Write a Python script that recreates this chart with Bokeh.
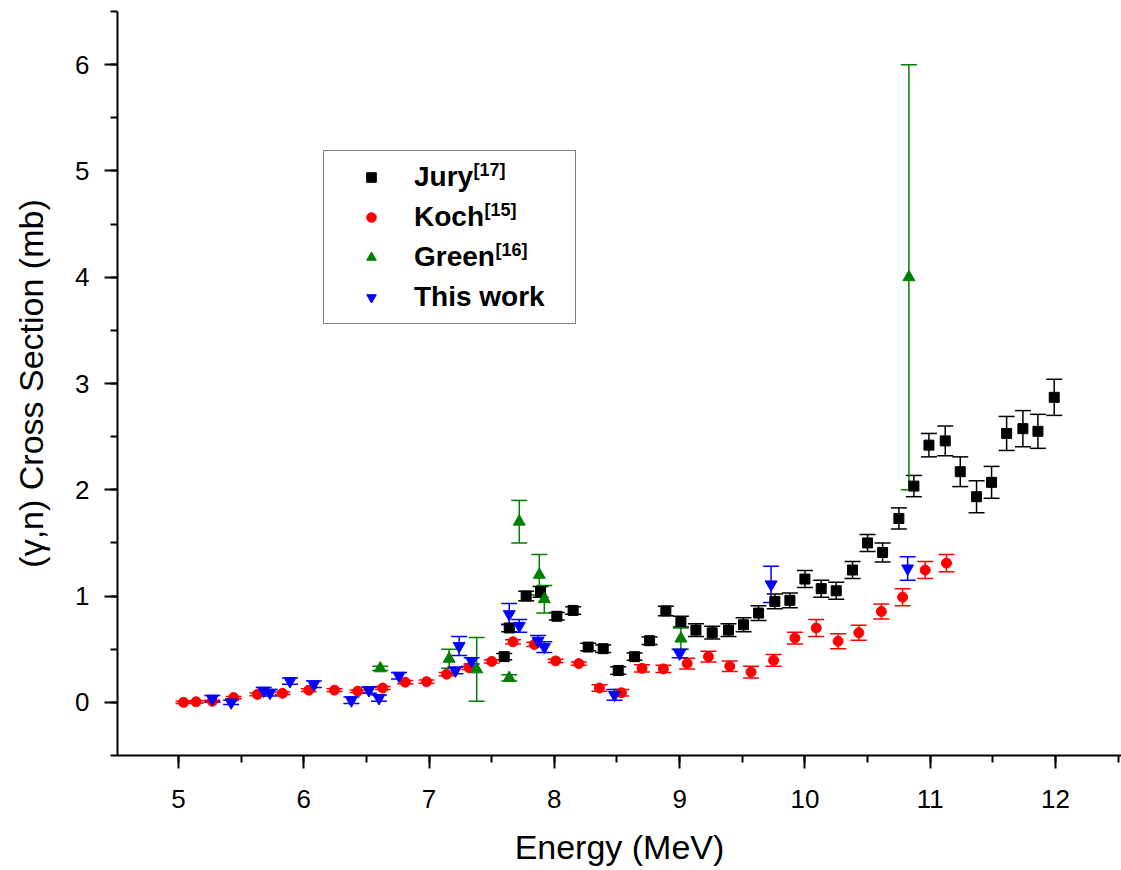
from bokeh.plotting import figure
from bokeh.models import (ColumnDataSource, Whisker, TeeHead, Range1d, Legend,
                          LegendItem, Label)
from bokeh.embed import file_html
from bokeh.resources import INLINE

# ---- data ----
jury_e = [7.60, 7.64, 7.775, 7.89, 8.02, 8.15, 8.27, 8.39, 8.51, 8.64, 8.76, 8.89,
          9.01, 9.13, 9.26, 9.39, 9.51, 9.63, 9.76, 9.88, 10.00, 10.13, 10.25, 10.38,
          10.50, 10.62, 10.75, 10.87, 10.99, 11.12, 11.24, 11.37, 11.49, 11.61, 11.74,
          11.86, 11.99]
jury_v = [0.43, 0.70, 1.00, 1.04, 0.81, 0.865, 0.52, 0.505, 0.30, 0.43, 0.58, 0.86,
          0.76, 0.68, 0.655, 0.68, 0.73, 0.84, 0.95, 0.96, 1.16, 1.07, 1.05, 1.245,
          1.50, 1.41, 1.73, 2.035, 2.42, 2.46, 2.17, 1.935, 2.07, 2.53, 2.575,
          2.55, 2.87]
jury_err = [0.03, 0.035, 0.045, 0.05, 0.035, 0.035, 0.035, 0.035, 0.035, 0.035, 0.035, 0.045,
            0.05, 0.06, 0.06, 0.06, 0.065, 0.07, 0.07, 0.07, 0.08, 0.08, 0.08, 0.08,
            0.08, 0.09, 0.10, 0.10, 0.11, 0.14, 0.14, 0.15, 0.15, 0.16, 0.17,
            0.16, 0.17]

koch_e = [5.04, 5.14, 5.27, 5.44, 5.63, 5.83, 6.04, 6.245, 6.43, 6.63, 6.81, 6.98,
          7.14, 7.32, 7.50, 7.67, 7.84, 8.01, 8.195, 8.36, 8.535, 8.70, 8.87, 9.06,
          9.23, 9.40, 9.57, 9.75, 9.92, 10.09, 10.265, 10.43, 10.61, 10.78, 10.96, 11.13]
koch_v = [0.0, 0.005, 0.01, 0.045, 0.075, 0.085, 0.115, 0.115, 0.105, 0.135, 0.19, 0.195,
          0.265, 0.325, 0.385, 0.57, 0.545, 0.39, 0.365, 0.135, 0.09, 0.32, 0.315, 0.365,
          0.43, 0.34, 0.285, 0.395, 0.605, 0.70, 0.575, 0.655, 0.855, 0.99, 1.245, 1.31]
koch_err = [0.01, 0.01, 0.01, 0.01, 0.012, 0.012, 0.012, 0.012, 0.012, 0.015, 0.015, 0.015,
            0.015, 0.015, 0.015, 0.02, 0.02, 0.015, 0.015, 0.03, 0.03, 0.035, 0.035, 0.05,
            0.05, 0.05, 0.055, 0.055, 0.055, 0.08, 0.07, 0.07, 0.07, 0.08, 0.08, 0.08]

green_e = [6.61, 7.16, 7.38, 7.64, 7.72, 7.88, 7.92, 9.01, 10.83]
green_v = [0.32, 0.41, 0.31, 0.23, 1.70, 1.20, 0.97, 0.60, 4.0]
green_err = [0.02, 0.09, 0.30, 0.03, 0.20, 0.19, 0.13, 0.10, 2.0]

this_e = [5.27, 5.42, 5.68, 5.73, 5.89, 6.08, 6.38, 6.52, 6.60, 6.76, 7.21, 7.24, 7.34,
          7.64, 7.72, 7.87, 7.92, 8.48, 9.00, 9.73, 10.82]
this_v = [0.035, 0.0, 0.11, 0.09, 0.20, 0.17, 0.02, 0.115, 0.04, 0.25, 0.30, 0.53, 0.39,
          0.83, 0.72, 0.58, 0.52, 0.07, 0.46, 1.11, 1.26]
this_err = [0.03, 0.02, 0.03, 0.03, 0.03, 0.03, 0.03, 0.03, 0.03, 0.03, 0.03, 0.09, 0.03,
            0.10, 0.06, 0.05, 0.05, 0.05, 0.04, 0.17, 0.11]

series_names = ["Jury", "Koch", "Green", "This work"]
series_refs = ["[17]", "[15]", "[16]", ""]

FONT = "Liberation Sans"

p = figure(width=1121, height=870, output_backend="svg", toolbar_location=None,
           x_range=Range1d(4.513, 12.527), y_range=Range1d(-0.5, 6.5),
           min_border_left=117, min_border_right=0, min_border_top=11,
           min_border_bottom=115, background_fill_color="white",
           border_fill_color="white")
p.outline_line_color = None
p.xgrid.visible = False
p.ygrid.visible = False

def mk(e, v, err):
    return ColumnDataSource(dict(x=e, y=v,
                                 up=[a + b for a, b in zip(v, err)],
                                 lo=[a - b for a, b in zip(v, err)]))

specs = [
    (jury_e, jury_v, jury_err, "#000000", "square", 10),
    (koch_e, koch_v, koch_err, "#ff0000", "circle", 10),
    (green_e, green_v, green_err, "#008000", "triangle", 12),
    (this_e, this_v, this_err, "#0000ff", "inverted_triangle", 12),
]

renderers = []
for e, v, err, col, marker, size in specs:
    src = mk(e, v, err)
    w = Whisker(source=src, base="x", upper="up", lower="lo", dimension="height",
                line_color=col, line_width=1.5,
                upper_head=TeeHead(size=16, line_color=col, line_width=1.5),
                lower_head=TeeHead(size=16, line_color=col, line_width=1.5))
    p.add_layout(w)
    r = p.scatter("x", "y", source=src, marker=marker, size=size,
                  fill_color=col, line_color=col)
    renderers.append(r)

# axes
for ax in (p.xaxis[0], p.yaxis[0]):
    ax.axis_line_width = 2
    ax.axis_line_color = "black"
    ax.major_tick_line_width = 2
    ax.minor_tick_line_width = 2
    ax.major_tick_line_color = "black"
    ax.minor_tick_line_color = "black"
    ax.major_tick_in = 0
    ax.minor_tick_in = 0
    ax.major_label_text_font = FONT
    ax.major_label_text_font_size = "26px"
    ax.major_label_text_color = "black"
    ax.axis_label_text_font = FONT
    ax.axis_label_text_font_size = "34px"
    ax.axis_label_text_font_style = "normal"
    ax.axis_label_text_color = "black"

p.xaxis.axis_label = "Energy (MeV)"
p.xaxis.ticker.desired_num_ticks = 8
p.xaxis.ticker.num_minor_ticks = 2
p.xaxis.major_tick_out = 13
p.xaxis.minor_tick_out = 7
p.xaxis.major_label_standoff = 21
p.xaxis.axis_label_standoff = 17

p.yaxis.axis_label = "(γ,n) Cross Section (mb)"
p.yaxis.ticker.desired_num_ticks = 7
p.yaxis.ticker.num_minor_ticks = 2
p.yaxis.major_tick_out = 13
p.yaxis.minor_tick_out = 7
p.yaxis.major_label_standoff = 15
p.yaxis.axis_label_standoff = 22

# legend (transparent background so that the superscripts stay visible)
items = [LegendItem(label=n, renderers=[r]) for n, r in zip(series_names, renderers)]
leg = Legend(items=items, location=(206, 431), padding=6, spacing=0,
             glyph_width=82, glyph_height=24, label_height=40, label_width=155,
             label_standoff=2, label_text_font=FONT, label_text_font_size="28px",
             label_text_font_style="bold", label_text_color="black",
             border_line_color="black", border_line_width=1.5,
             background_fill_alpha=0.0, margin=0)
p.add_layout(leg)

# superscript references next to the legend labels (data units)
xr0, xr1, yr0, yr1 = 4.513, 12.527, -0.5, 6.5
fw, fh = 1004.0, 744.0
sup_px = [473, 484, 495]     # page x of superscript start
sup_py = [169, 209, 249]     # page y of superscript centre
for ref, px, py in zip(series_refs[:3], sup_px, sup_py):
    lx = xr0 + (px - 117) / fw * (xr1 - xr0)
    ly = yr0 + (755 - py) / fh * (yr1 - yr0)
    p.add_layout(Label(x=lx, y=ly, text=ref,
                       text_font=FONT, text_font_size="18px", text_font_style="bold",
                       text_baseline="middle", text_align="left", text_color="black"))

open("out.html", "w").write(file_html(p, INLINE))
